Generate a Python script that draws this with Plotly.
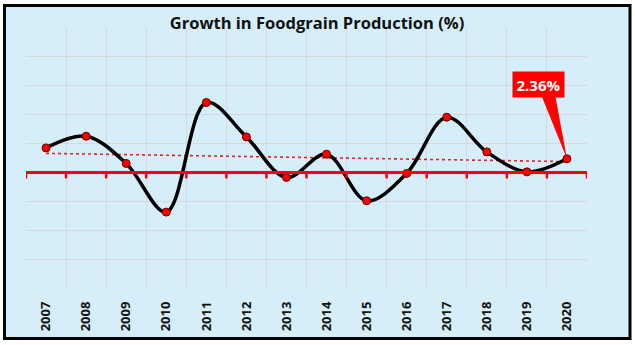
import numpy as np
import plotly.graph_objects as go

# Annual growth in foodgrain production (%)
years = ["2007", "2008", "2009", "2010", "2011", "2012", "2013",
         "2014", "2015", "2016", "2017", "2018", "2019", "2020"]
growth = [4.25, 6.27, 1.56, -6.86, 12.1, 6.15, -0.86,
          3.16, -4.9, -0.17, 9.56, 3.56, 0.1, 2.36]

title_text = "Growth in Foodgrain Production (%)"
y_range = [-20, 25]
y_step = 5

BG = "#d5eefa"
GRID = "#d8d8dc"
RED = "#ff0000"
FONT = "Open Sans"

idx = np.arange(len(years))
slope, intercept = np.polyfit(idx, growth, 1)
trend = slope * idx + intercept

fig = go.Figure()

# Linear trend line
fig.add_trace(go.Scatter(
    x=years, y=trend, mode="lines",
    line=dict(color="#e8202a", width=1.6, dash="dot"),
    hoverinfo="skip", showlegend=False,
))

# Smoothed growth series with markers
fig.add_trace(go.Scatter(
    x=years, y=growth, mode="lines+markers",
    line=dict(color="black", width=3.5, shape="spline", smoothing=1.0),
    marker=dict(color=RED, size=8, line=dict(color="#600000", width=1)),
    showlegend=False,
))

shapes = []
# Outer frame of the chart
m_l, m_r, m_t, m_b = 26, 48, 28, 57
W, H = 635, 345
pw, ph = W - m_l - m_r, H - m_t - m_b
shapes.append(dict(
    type="rect", xref="paper", yref="paper", layer="below",
    x0=(4.5 - m_l) / pw, x1=(630 - m_l) / pw,
    y0=(ph - (338.5 - m_t)) / ph, y1=(ph - (5.5 - m_t)) / ph,
    fillcolor=BG, line=dict(color="black", width=3),
))

# Red category axis drawn at zero, with ticks at category boundaries
n = len(years)
shapes.append(dict(
    type="line", xref="x", yref="y", x0=-0.5, x1=n - 0.5, y0=0, y1=0,
    line=dict(color=RED, width=3),
))
for b in np.arange(-0.5, n, 1.0):
    shapes.append(dict(
        type="line", xref="x", yref="y", ysizemode="pixel", yanchor=0,
        x0=b, x1=b, y0=1, y1=-6,
        line=dict(color=RED, width=2.5),
    ))

# Callout pointer for the last value
last_x, last_y = n - 1, growth[-1]
shapes.append(dict(
    type="path", xref="x", yref="y",
    xsizemode="pixel", ysizemode="pixel", xanchor=last_x, yanchor=last_y,
    path="M -25,62 L -11.5,62 L 0,0 Z",
    fillcolor=RED, line=dict(width=0),
))

fig.update_layout(
    width=W, height=H,
    margin=dict(l=m_l, r=m_r, t=m_t, b=m_b),
    paper_bgcolor="white",
    plot_bgcolor=BG,
    shapes=shapes,
    title=dict(
        text="<b>" + title_text + "</b>",
        x=317 / W, xanchor="center", y=1 - 23 / H, yanchor="middle",
        font=dict(family=FONT, size=16.5, color="#111111"),
    ),
    annotations=[dict(
        x=last_x, y=last_y, xref="x", yref="y",
        text="<b>%.2f%%</b>" % last_y, showarrow=False,
        xshift=-28, yshift=74, width=51, height=25,
        bgcolor=RED, borderpad=0,
        font=dict(family=FONT, size=15, color="white"),
    )],
    xaxis=dict(
        type="category", range=[-0.5, n - 0.5],
        tickmode="array", tickvals=years,
        ticktext=["<b>%s</b>" % y for y in years],
        tickson="boundaries", ticks="", showgrid=True,
        gridcolor=GRID, gridwidth=1,
        tickangle=-90, ticklabelstandoff=10,
        tickfont=dict(family=FONT, size=13, color="#111111"),
        showline=False, zeroline=False, fixedrange=True,
    ),
    yaxis=dict(
        range=y_range, dtick=y_step, tick0=0,
        showticklabels=False, ticks="", showgrid=True,
        gridcolor=GRID, gridwidth=1,
        zeroline=False, showline=False, fixedrange=True,
    ),
)

fig.write_html("out.html")
